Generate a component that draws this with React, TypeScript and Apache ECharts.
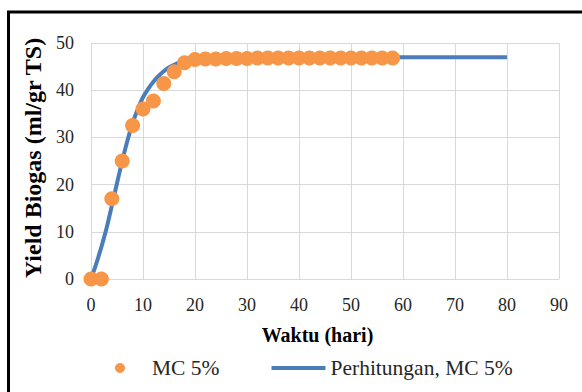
import React, { useEffect, useRef } from "react";
import * as echarts from "echarts";

const dayObs = [0, 2, 4, 6, 8, 10, 12, 14, 16, 18, 20, 22, 24, 26, 28, 30, 32, 34, 36, 38, 40, 42, 44, 46, 48, 50, 52, 54, 56, 58];
const yieldObs = [0, 0, 17, 25, 32.5, 36, 37.7, 41.4, 43.9, 45.8, 46.5, 46.6, 46.6, 46.7, 46.7, 46.7, 46.8, 46.8, 46.8, 46.8, 46.8, 46.8, 46.8, 46.8, 46.8, 46.8, 46.8, 46.8, 46.8, 46.8];

const dayCalc = [0, 1, 2, 3, 4, 5, 6, 7, 8, 9, 10, 11, 12, 13, 14, 15, 16, 17, 18, 19, 20, 22, 25, 30, 40, 50, 60, 70, 80];
const yieldCalc = [0, 3.2, 6.8, 10.8, 15.5, 20.3, 25, 29.3, 33, 36, 38.5, 40.3, 41.8, 43, 44, 44.8, 45.4, 45.9, 46.2, 46.5, 46.7, 46.8, 46.9, 47, 47, 47, 47, 47, 47];

const seriesObsName = "MC 5%";
const seriesCalcName = "Perhitungan, MC 5%";
const xTitle = "Waktu (hari)";
const yTitle = "Yield Biogas (ml/gr TS)";

const FONT = '"Liberation Serif", "Times New Roman", serif';
const BLUE = "#4A7EBB";
const ORANGE = "#F79646";

export default function App() {
  const ref = useRef<HTMLDivElement>(null);
  useEffect(() => {
    if (!ref.current) return;
    const chart = echarts.init(ref.current, null, { renderer: "svg" });
    chart.setOption({
      animation: false,
      backgroundColor: "#ffffff",
      textStyle: { fontFamily: FONT },
      grid: { left: 91, right: 23, top: 43, bottom: 113, containLabel: false },
      xAxis: {
        type: "value",
        min: 0,
        max: 90,
        interval: 10,
        name: xTitle,
        nameLocation: "middle",
        nameGap: 46,
        nameTextStyle: { fontFamily: FONT, fontSize: 20, fontWeight: "bold", color: "#000", padding: [0, 15, 0, 0] },
        axisLine: { show: true, lineStyle: { color: "#d9d9d9", width: 1 } },
        axisTick: { show: false },
        axisLabel: { fontFamily: FONT, fontSize: 18, color: "#262626", margin: 17 },
        splitLine: { show: true, lineStyle: { color: "#d9d9d9", width: 1 } },
      },
      yAxis: {
        type: "value",
        min: 0,
        max: 50,
        interval: 10,
        name: yTitle,
        nameLocation: "middle",
        nameGap: 34,
        nameRotate: 90,
        nameTextStyle: { fontFamily: FONT, fontSize: 24, fontWeight: "bold", color: "#000", padding: [0, 0, 0, 6] },
        axisLine: { show: true, lineStyle: { color: "#d9d9d9", width: 1 } },
        axisTick: { show: false },
        axisLabel: { fontFamily: FONT, fontSize: 18, color: "#262626", margin: 17 },
        splitLine: { show: true, lineStyle: { color: "#d9d9d9", width: 1 } },
      },
      legend: {
        data: [
          { name: seriesObsName, icon: "circle" },
          { name: seriesCalcName, icon: "path://M0,0L0,0M0,10L0,10M0,3L54,3L54,7L0,7Z" },
        ],
        left: 110,
        top: 352,
        itemWidth: 54,
        itemHeight: 10,
        itemGap: 52,
        textStyle: { fontFamily: FONT, fontSize: 21.5, color: "#262626" },
      },
      graphic: [
        {
          type: "rect",
          shape: { x: 8.5, y: 12, width: 700, height: 500 },
          style: { fill: "none", stroke: "#000", lineWidth: 3 },
          silent: true,
          z: 100,
        },
      ],
      series: [
        {
          name: seriesObsName,
          type: "scatter",
          data: dayObs.map((d, i) => [d, yieldObs[i]]),
          symbol: "circle",
          symbolSize: 15,
          itemStyle: { color: ORANGE, opacity: 1 },
          z: 3,
        },
        {
          name: seriesCalcName,
          type: "line",
          data: dayCalc.map((d, i) => [d, yieldCalc[i]]),
          symbol: "none",
          showSymbol: false,
          smooth: 0.3,
          lineStyle: { color: BLUE, width: 4 },
          itemStyle: { color: BLUE },
          z: 2,
        },
      ],
    });
    return () => chart.dispose();
  }, []);
  return (
    <div
      ref={ref}
      style={{ position: "fixed", left: 0, top: 0, width: 582, height: 392, background: "#fff" }}
    />
  );
}
